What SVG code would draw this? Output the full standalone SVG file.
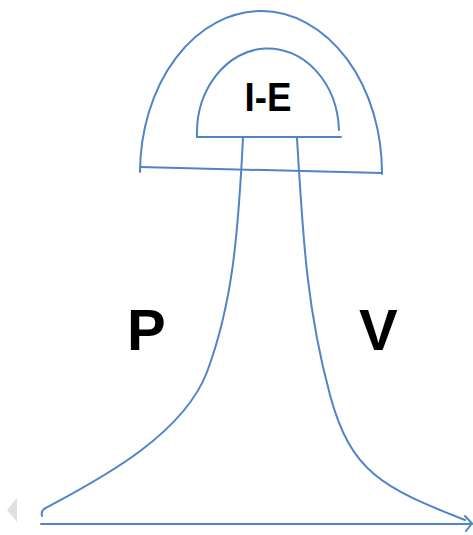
<svg xmlns="http://www.w3.org/2000/svg" width="473" height="535" viewBox="0 0 473 535">
<style>
.ln{fill:none;stroke:#5084C8;stroke-width:2;stroke-linecap:round;stroke-linejoin:round}
.lbl{font-family:"Liberation Sans",Arial,sans-serif;font-weight:bold;fill:#000}
</style>
<rect width="473" height="535" fill="#fff"/>
<g id="outer-dome">
<path class="ln" d="M140,172 A121,162 0 0 1 382,174"/>
<path class="ln" d="M140,167 L382,173"/>
</g>
<g id="inner-dome">
<path class="ln" d="M197,137 A71,85 0 0 1 339,130"/>
<path class="ln" d="M197,137 L341,137"/>
<text class="lbl" x="268" y="111" font-size="40" text-anchor="middle" textLength="47" lengthAdjust="spacingAndGlyphs">I-E</text>
</g>
<g id="connectors">
<path class="ln" d="M243,138 C238,238 232,305 207,372 C181,440 86.5,485.5 44,509 Q41,511 42,516"/>
<path class="ln" d="M297,138 C303,238 306.6,308.2 330,395 C350.8,472.2 382.3,487.7 465,520"/>
<path class="ln" d="M41,524 L472,524"/>
<path class="ln" d="M465,516 L472,523.5 L466,531"/>
</g>
<g id="label-p"><text class="lbl" x="127" y="350" font-size="58">P</text></g>
<g id="label-v"><text class="lbl" x="359" y="350" font-size="58">V</text></g>
<polygon points="7,510 17,498 17,522" fill="#e0e0e0"/>
</svg>
